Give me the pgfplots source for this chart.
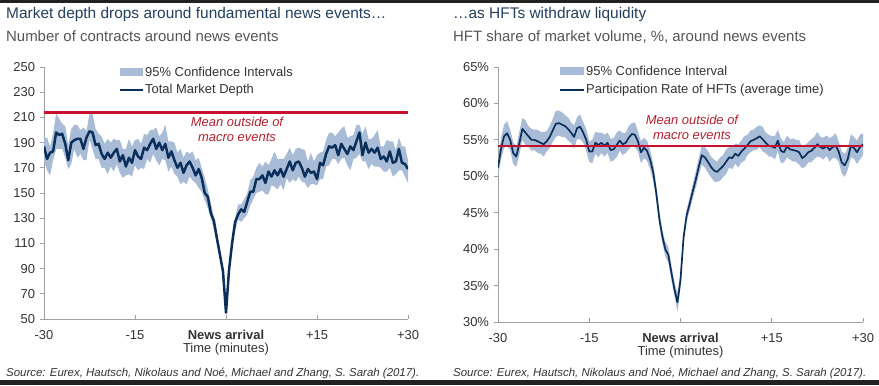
\documentclass[border=0pt]{standalone}
\usepackage{fontspec}
\setmainfont{Liberation Sans}
\usepackage{pgfplots}
\usepackage{pgfplotstable}
\pgfplotsset{compat=1.18}

\definecolor{navy}{HTML}{0B2F5B}
\definecolor{band}{HTML}{A9BCD7}
\definecolor{redl}{HTML}{C8102E}
\definecolor{redt}{HTML}{B5202E}
\definecolor{titleblue}{HTML}{24405F}
\definecolor{subgray}{HTML}{555555}
\definecolor{tickgray}{HTML}{333333}
\definecolor{axgray}{HTML}{A0A0A0}
\definecolor{frame}{HTML}{222222}

% Left: total market depth (line)
\pgfplotstableread{
x y
-30 187
-29.5 177
-29 182
-28.5 183
-28 198
-27.5 196
-27 197
-26.5 189
-26 176
-25.5 190
-25 192
-24.5 193
-24 193
-23.5 185
-23 194
-22.5 199
-22 198
-21.5 188
-21 189
-20.5 181
-20 177
-19.5 182
-19 178
-18.5 182
-18 185
-17.5 175
-17 180
-16.5 171
-16 178
-15.5 174
-15 184
-14.5 179
-14 177
-13.5 186
-13 184
-12.5 189
-12 193
-11.5 185
-11 190
-10.5 184
-10 189
-9.5 178
-9 183
-8.5 176
-8 170
-7.5 174
-7 166
-6.5 172
-6 175
-5.5 170
-5 164
-4.5 169
-4 162
-3.5 150
-3 147
-2.5 134
-2 128
-1.5 114
-1 101
-0.5 88
0 55
0.5 89
1 110
1.5 127
2 133
2.5 137
3 135
3.5 143
4 151
4.5 151
5 161
5.5 161
6 164
6.5 158
7 167
7.5 163
8 168
8.5 164
9 169
9.5 163
10 169
10.5 175
11 168
11.5 174
12 175
12.5 170
13 163
13.5 169
14 166
14.5 167
15 161
15.5 174
16 172
16.5 181
17 187
17.5 186
18 188
18.5 180
19 189
19.5 185
20 181
20.5 187
21 184
21.5 191
22 198
22.5 180
23 190
23.5 182
24 185
24.5 182
25 186
25.5 177
26 179
26.5 175
27 183
27.5 174
28 175
28.5 185
29 174
29.5 173
30 169
}\leftline

% Left: 95% band outline (upper edge forward, lower edge back)
\pgfplotstableread{
x v
-30 194
-29.5 194
-29 187
-28.5 197
-28 213
-27.5 209
-27 205
-26.5 203
-26 188
-25.5 201
-25 204
-24.5 204
-24 200
-23.5 202
-23 199
-22.5 213
-22 213
-21.5 201
-21 197
-20.5 195
-20 189
-19.5 193
-19 190
-18.5 193
-18 192
-17.5 192
-17 185
-16.5 185
-16 193
-15.5 187
-15 192
-14.5 193
-14 189
-13.5 197
-13 196
-12.5 200
-12 200
-11.5 202
-11 195
-10.5 198
-10 204
-9.5 191
-9 191
-8.5 190
-8 182
-7.5 185
-7 178
-6.5 183
-6 181
-5.5 183
-5 176
-4.5 178
-4 170
-3.5 162
-3 153
-2.5 142
-2 131
-1.5 119
-1 106
-0.5 89
0 58
0.5 92
1 116
1.5 130
2 141
2.5 141
3 145
3.5 150
4 160
4.5 163
5 170
5.5 174
6 171
6.5 175
7 172
7.5 177
8 183
8.5 177
9 177
9.5 177
10 181
10.5 186
11 180
11.5 185
12 186
12.5 185
13 184
13.5 175
14 182
14.5 175
15 180
15.5 182
16 183
16.5 192
17 198
17.5 198
18 195
18.5 198
19 201
19.5 203
20 194
20.5 195
21 196
21.5 204
22 204
22.5 197
23 203
23.5 193
24 193
24.5 196
25 200
25.5 187
26 187
26.5 192
27 191
27.5 191
28 184
28.5 194
29 187
29.5 187
30 176
30 158
29.5 163
29 168
28.5 168
28 165
27.5 163
27 170
26.5 167
26 167
25.5 170
25 171
24.5 171
24 173
23.5 169
23 175
22.5 175
22 181
21.5 178
21 177
20.5 168
20 172
19.5 178
19 177
18.5 173
18 177
17.5 177
17 172
16.5 171
16 161
15.5 161
15 156
14.5 157
14 157
13.5 154
13 158
12.5 159
12 163
11.5 159
11 161
10.5 158
10 162
9.5 152
9 157
8.5 153
8 155
7.5 156
7 149
6.5 149
6 152
5.5 151
5 150
4.5 145
4 140
3.5 133
3 130
2.5 127
2 129
1.5 120
1 108
0.5 84
0 52
-0.5 83
-1 99
-1.5 111
-2 121
-2.5 130
-3 138
-3.5 144
-4 151
-4.5 154
-5 158
-5.5 160
-6 163
-6.5 157
-7 159
-7.5 157
-8 163
-8.5 165
-9 171
-9.5 167
-10 176
-10.5 177
-11 172
-11.5 176
-12 181
-12.5 174
-13 177
-13.5 169
-14 170
-14.5 168
-15 172
-15.5 163
-16 165
-16.5 164
-17 162
-17.5 166
-18 173
-18.5 167
-19 171
-19.5 165
-20 170
-20.5 170
-21 177
-21.5 177
-22 185
-22.5 192
-23 176
-23.5 176
-24 181
-24.5 178
-25 185
-25.5 173
-26 169
-26.5 178
-27 185
-27.5 185
-28 185
-28.5 176
-29 164
-29.5 168
-30 175
}\leftband

% Right: HFT participation rate (line)
\pgfplotstableread{
x y
-30 51.2
-29.5 53.8
-29 55.5
-28.5 55.9
-28 55.0
-27.5 53.2
-27 52.7
-26.5 54.5
-26 56.5
-25.5 56.0
-25 55.5
-24.5 55.0
-24 55.0
-23.5 54.8
-23 54.6
-22.5 54.4
-22 54.8
-21.5 55.4
-21 56.3
-20.5 57.2
-20 57.3
-19.5 57.1
-19 56.9
-18.5 56.5
-18 56.0
-17.5 55.4
-17 56.6
-16.5 56.8
-16 56.0
-15.5 55.0
-15 53.4
-14.5 53.4
-14 54.6
-13.5 54.3
-13 54.6
-12.5 54.2
-12 54.6
-11.5 53.6
-11 53.7
-10.5 54.3
-10 54.9
-9.5 54.4
-9 54.6
-8.5 55.3
-8 55.8
-7.5 55.7
-7 54.8
-6.5 53.3
-6 53.9
-5.5 53.5
-5 52.3
-4.5 50.6
-4 47.8
-3.5 44.3
-3 41.8
-2.5 40.0
-2 39.2
-1.5 36.8
-1 34.5
-0.5 32.7
0 35.8
0.5 41.6
1 44.6
1.5 46.2
2 47.9
2.5 49.5
3 51.3
3.5 52.9
4 52.6
4.5 52.0
5 51.3
5.5 50.8
6 50.6
6.5 51.0
7 51.4
7.5 52.0
8 52.6
8.5 52.5
9 53.1
9.5 52.8
10 53.4
10.5 53.8
11 54.3
11.5 54.8
12 55.0
12.5 55.2
13 55.5
13.5 55.1
14 54.6
14.5 54.2
15 54.1
15.5 53.9
16 54.9
16.5 53.5
17 53.3
17.5 54.1
18 53.7
18.5 53.6
19 53.5
19.5 53.3
20 52.5
20.5 52.8
21 53.3
21.5 53.5
22 53.9
22.5 54.4
23 54.0
23.5 53.8
24 54.2
24.5 53.6
25 54.0
25.5 54.2
26 53.4
26.5 51.9
27 51.5
27.5 52.4
28 54.2
28.5 53.9
29 53.3
29.5 54.0
30 54.4
}\rightline

% Right: 95% band outline (upper edge forward, lower edge back)
\pgfplotstableread{
x v
-30 52.4
-29.5 55.3
-29 57.1
-28.5 57.6
-28 56.4
-27.5 54.7
-27 54.1
-26.5 56.1
-26 58.0
-25.5 57.7
-25 56.9
-24.5 56.5
-24 56.4
-23.5 56.4
-23 56.1
-22.5 56.1
-22 56.2
-21.5 56.9
-21 57.9
-20.5 59.0
-20 59.0
-19.5 58.8
-19 58.4
-18.5 58.1
-18 57.4
-17.5 57.0
-17 58.1
-16.5 58.5
-16 57.4
-15.5 56.5
-15 54.8
-14.5 55.0
-14 56.1
-13.5 56.0
-13 56.0
-12.5 55.7
-12 56.0
-11.5 55.2
-11 55.2
-10.5 56.0
-10 56.3
-9.5 55.9
-9 56.0
-8.5 56.9
-8 57.3
-7.5 57.4
-7 56.2
-6.5 54.8
-6 55.3
-5.5 54.9
-5 53.6
-4.5 51.8
-4 48.8
-3.5 45.2
-3 42.7
-2.5 41.0
-2 40.3
-1.5 37.8
-1 35.4
-0.5 34.0
0 36.8
0.5 42.4
1 45.4
1.5 47.1
2 48.9
2.5 50.6
3 52.5
3.5 54.2
4 54.0
4.5 53.5
5 52.7
5.5 52.3
6 52.0
6.5 52.6
7 52.9
7.5 53.7
8 54.0
8.5 54.0
9 54.5
9.5 54.4
10 54.9
10.5 55.5
11 55.7
11.5 56.3
12 56.4
12.5 56.8
13 57.0
13.5 56.8
14 56.0
14.5 55.7
15 55.5
15.5 55.5
16 56.4
16.5 55.2
17 54.7
17.5 55.6
18 55.1
18.5 55.2
19 55.0
19.5 55.0
20 53.9
20.5 54.3
21 54.7
21.5 55.1
22 55.4
22.5 56.1
23 55.4
23.5 55.3
24 55.6
24.5 55.2
25 55.5
25.5 55.9
26 54.8
26.5 53.4
27 53.1
27.5 53.9
28 55.8
28.5 55.4
29 54.9
29.5 55.7
30 55.9
30 52.9
29.5 52.3
29 51.7
28.5 52.4
28 52.6
27.5 50.9
27 49.9
26.5 50.4
26 52.0
25.5 52.5
25 52.5
24.5 52.0
24 52.8
23.5 52.3
23 52.6
22.5 52.7
22 52.4
21.5 51.9
21 51.9
20.5 51.3
20 51.1
19.5 51.6
19 52.0
18.5 52.0
18 52.3
17.5 52.6
17 51.9
16.5 51.8
16 53.4
15.5 52.3
15 52.7
14.5 52.7
14 53.2
13.5 53.4
13 54.0
12.5 53.6
12 53.6
11.5 53.3
11 52.9
10.5 52.1
10 51.9
9.5 51.2
9 51.7
8.5 51.0
8 51.2
7.5 50.3
7 49.9
6.5 49.4
6 49.2
5.5 49.3
5 49.9
4.5 50.5
4 51.2
3.5 51.6
3 50.1
2.5 48.4
2 46.9
1.5 45.3
1 43.8
0.5 40.8
0 34.8
-0.5 31.4
-1 33.6
-1.5 35.8
-2 38.1
-2.5 39.0
-3 40.9
-3.5 43.4
-4 46.8
-4.5 49.4
-5 51.0
-5.5 52.1
-6 52.5
-6.5 51.8
-7 53.4
-7.5 54.0
-8 54.3
-8.5 53.7
-9 53.2
-9.5 52.9
-10 53.5
-10.5 52.6
-11 52.2
-11.5 52.0
-12 53.2
-12.5 52.7
-13 53.2
-13.5 52.6
-14 53.1
-14.5 51.8
-15 52.0
-15.5 53.5
-16 54.6
-16.5 55.1
-17 55.1
-17.5 53.8
-18 54.6
-18.5 54.9
-19 55.4
-19.5 55.4
-20 55.6
-20.5 55.4
-21 54.7
-21.5 53.9
-22 53.4
-22.5 52.7
-23 53.1
-23.5 53.2
-24 53.6
-24.5 53.5
-25 54.1
-25.5 54.3
-26 55.0
-26.5 52.9
-27 51.3
-27.5 51.7
-28 53.6
-28.5 54.2
-29 53.9
-29.5 52.3
-30 50.0
}\rightband

\pgfplotsset{
  hftstyle/.style={
    scale only axis,
    axis x line*=bottom, axis y line*=left,
    axis line style={axgray, line width=0.9pt},
    xmin=-30, xmax=30,
    xtick={-30,-15,0,15,30},
    xticklabels={-30,-15,{\textbf{News arrival}},+15,+30},
    xtick align=inside, ytick align=outside,
    major tick length=4.5pt,
    tick style={axgray, line width=0.9pt},
    /pgf/number format/assume math mode=true,
    tick label style={font=\fontsize{13}{15}\selectfont, text=tickgray},
    xticklabel style={yshift=-8pt},
    yticklabel style={xshift=-1pt},
    xlabel={Time (minutes)},
    xlabel style={font=\fontsize{13}{15}\selectfont, text=tickgray, yshift=4pt},
  }
}

\begin{document}
\begin{tikzpicture}[x=1bp,y=1bp]
\fill[white] (0,0) rectangle (879,385);
\fill[frame] (0,382) rectangle (879,385);
\fill[frame] (0,0) rectangle (879,5);

% Left axis
\begin{axis}[hftstyle, at={(44bp,66bp)}, anchor=south west,
  width=364bp, height=252bp,
  ymin=50, ymax=250, ytick={50,70,...,250}]
  \addplot[fill=band, draw=none] table[x=x,y=v]{\leftband};
  \addplot[navy, line width=2.5pt, line join=round] table[x=x,y=y]{\leftline};
  \addplot[draw=redl, line width=2.3pt] coordinates {(-30,214) (30,214)};
\end{axis}

% Right axis
\begin{axis}[hftstyle, at={(498bp,63bp)}, anchor=south west,
  width=365bp, height=255bp,
  ymin=30, ymax=65, ytick={30,35,...,65},
  yticklabel={\pgfmathprintnumber{\tick}\%}]
  \addplot[fill=band, draw=none] table[x=x,y=v]{\rightband};
  \addplot[navy, line width=1.7pt, line join=round] table[x=x,y=y]{\rightline};
  \addplot[draw=redl, line width=2.1pt] coordinates {(-30,54.2) (30,54.2)};
\end{axis}

% Titles
\node[anchor=base west, inner sep=0, text=titleblue, font=\fontsize{15.5}{18}\selectfont] at (6,366.5) {Market depth drops around fundamental news events…};
\node[anchor=base west, inner sep=0, text=subgray, font=\fontsize{15}{18}\selectfont] at (6,343.5) {Number of contracts around news events};
\node[anchor=base west, inner sep=0, text=titleblue, font=\fontsize{15.5}{18}\selectfont] at (453,366.5) {…as HFTs withdraw liquidity};
\node[anchor=base west, inner sep=0, text=subgray, font=\fontsize{15}{18}\selectfont] at (453,343.5) {HFT share of market volume, \%, around news events};

% Legends
\fill[band] (120,309) rectangle (143,317);
\node[anchor=west, inner sep=0, text=tickgray, font=\fontsize{13}{15}\selectfont] at (145,313) {95\% Confidence Intervals};
\draw[navy, line width=1.5pt] (120,295) -- (143,295);
\node[anchor=west, inner sep=0, text=tickgray, font=\fontsize{13}{15}\selectfont] at (145,295) {Total Market Depth};

\fill[band] (560,310) rectangle (584,318);
\node[anchor=west, inner sep=0, text=tickgray, font=\fontsize{13}{15}\selectfont] at (586,314) {95\% Confidence Interval};
\draw[navy, line width=1.5pt] (560,295) -- (584,295);
\node[anchor=west, inner sep=0, text=tickgray, font=\fontsize{13}{15}\selectfont] at (586,295) {Participation Rate of HFTs (average time)};

% Mean labels
\node[align=center, inner sep=0, text=redt, font=\fontsize{13}{15}\itshape\selectfont] at (237,255.5) {Mean outside of\\macro events};
\node[align=center, inner sep=0, text=redt, font=\fontsize{13}{15}\itshape\selectfont] at (692,257.5) {Mean outside of\\macro events};

% Sources
\node[anchor=base west, inner sep=0, text=tickgray, font=\fontsize{11.5}{13}\itshape\selectfont] at (6,8.5) {Source: Eurex, Hautsch, Nikolaus and Noé, Michael and Zhang, S. Sarah (2017).};
\node[anchor=base west, inner sep=0, text=tickgray, font=\fontsize{11.5}{13}\itshape\selectfont] at (453,8.5) {Source: Eurex, Hautsch, Nikolaus and Noé, Michael and Zhang, S. Sarah (2017).};

\pgfresetboundingbox
\useasboundingbox (0,0) rectangle (879,385);
\end{tikzpicture}
\end{document}
